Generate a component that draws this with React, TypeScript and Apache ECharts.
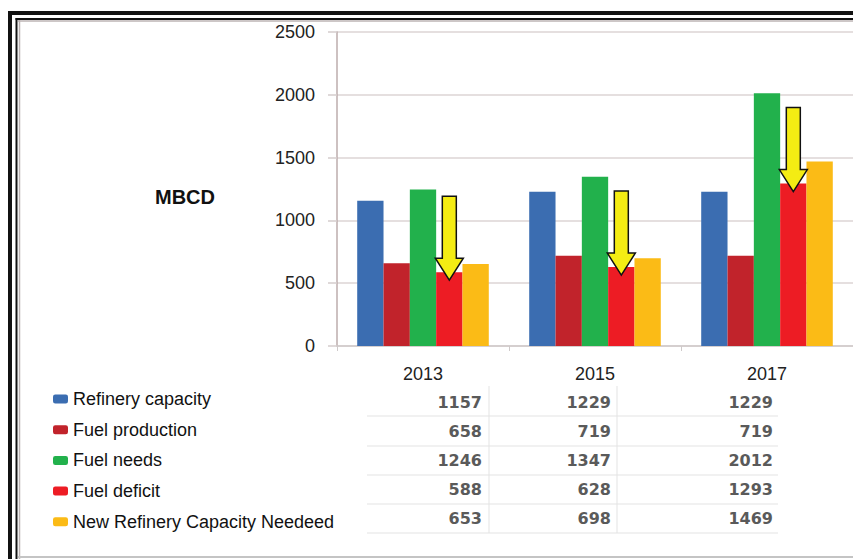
import React, { useEffect, useRef } from 'react';
import * as echarts from 'echarts';

const years = ['2013', '2015', '2017'];
const refineryCapacity = [1157, 1229, 1229];
const fuelProduction = [658, 719, 719];
const fuelNeeds = [1246, 1347, 2012];
const fuelDeficit = [588, 628, 1293];
const newCapacity = [653, 698, 1469];
const seriesNames = [
  'Refinery capacity',
  'Fuel production',
  'Fuel needs',
  'Fuel deficit',
  'New Refinery Capacity Needeed',
];
const seriesValues = [refineryCapacity, fuelProduction, fuelNeeds, fuelDeficit, newCapacity];
const seriesColors = ['#3b6db1', '#c1232b', '#22b14c', '#ed1c24', '#fbbb16'];
const yMin = 0;
const yMax = 2500;
const yStep = 500;
const axisTitle = 'MBCD';
const arrowSeriesIndex = 3;

const FONT = '"Liberation Sans", Arial, sans-serif';

export default function App() {
  const ref = useRef<HTMLDivElement>(null);

  useEffect(() => {
    if (!ref.current) return;
    const chart = echarts.init(ref.current, null, { renderer: 'svg' });

    const tableRowY = [402, 431, 460, 489, 518];
    const tableColRight = [482, 611, 773];
    const hLines = [416, 446, 475, 504, 533];
    const vLines = [489, 617];

    const graphic: any[] = [];
    const black = '#111';
    graphic.push(
      { type: 'line', shape: { x1: 10, y1: 11, x2: 10, y2: 559 }, style: { stroke: black, lineWidth: 4 } },
      { type: 'line', shape: { x1: 8, y1: 13, x2: 853, y2: 13 }, style: { stroke: black, lineWidth: 4 } },
      { type: 'line', shape: { x1: 16.5, y1: 18, x2: 16.5, y2: 559 }, style: { stroke: black, lineWidth: 2 } },
      { type: 'line', shape: { x1: 15.5, y1: 19, x2: 853, y2: 19 }, style: { stroke: black, lineWidth: 2 } },
      { type: 'line', shape: { x1: 19.5, y1: 20, x2: 19.5, y2: 559 }, style: { stroke: '#bdb4b4', lineWidth: 1.5 } },
      { type: 'line', shape: { x1: 18, y1: 21, x2: 853, y2: 21 }, style: { stroke: '#bdb4b4', lineWidth: 1.5 } },
      { type: 'line', shape: { x1: 18, y1: 557, x2: 853, y2: 557 }, style: { stroke: '#c4c4c4', lineWidth: 2 } }
    );
    graphic.push({
      type: 'text',
      x: 185,
      y: 197,
      style: {
        text: axisTitle,
        font: `bold 20px ${FONT}`,
        fill: '#111',
        textAlign: 'center',
        textVerticalAlign: 'middle',
      },
    });
    hLines.forEach((y) => {
      graphic.push({
        type: 'line',
        shape: { x1: 367, y1: y, x2: 778, y2: y },
        style: { stroke: '#e3e3e3', lineWidth: 1 },
      });
    });
    vLines.forEach((x) => {
      graphic.push({
        type: 'line',
        shape: { x1: x, y1: 386, x2: x, y2: 533 },
        style: { stroke: '#e3e3e3', lineWidth: 1 },
      });
    });
    seriesValues.forEach((vals, r) => {
      vals.forEach((v, c) => {
        graphic.push({
          type: 'text',
          x: tableColRight[c],
          y: tableRowY[r],
          style: {
            text: String(v),
            font: 'bold 16px "DejaVu Sans", Verdana, sans-serif',
            fill: '#5a5a5a',
            textAlign: 'right',
            textVerticalAlign: 'middle',
          },
        });
      });
    });

    const series = seriesNames.map((name, i) => ({
      name,
      type: 'bar',
      data: seriesValues[i],
      barGap: '0%',
      barCategoryGap: '23.5%',
      itemStyle: { color: seriesColors[i] },
    }));

    chart.setOption({
      animation: false,
      backgroundColor: '#ffffff',
      textStyle: { fontFamily: FONT },
      grid: { left: 337, top: 32, width: 519, height: 314, containLabel: false },
      legend: {
        orient: 'vertical',
        left: 53,
        top: 388,
        padding: 0,
        itemWidth: 15,
        itemHeight: 9,
        itemGap: 8.7,
        icon: 'roundRect',
        selectedMode: false,
        textStyle: { fontSize: 18, color: '#111', fontFamily: FONT, lineHeight: 22 },
        data: seriesNames,
      },
      xAxis: {
        type: 'category',
        data: years,
        axisLine: { show: true, lineStyle: { color: '#cfcaca', width: 1.5 } },
        axisTick: { show: true, length: 5, alignWithLabel: false, lineStyle: { color: '#cfcaca' } },
        axisLabel: { fontSize: 18, color: '#222', margin: 19, fontFamily: FONT },
        splitLine: { show: false },
      },
      yAxis: {
        type: 'value',
        min: yMin,
        max: yMax,
        interval: yStep,
        axisLine: { show: true, lineStyle: { color: '#bcadad', width: 1.5 } },
        axisTick: { show: true, length: 9, lineStyle: { color: '#d5cccc', width: 1.5 } },
        axisLabel: {
          fontSize: 18,
          color: '#222',
          margin: 22,
          fontFamily: FONT,
          formatter: (v: number) => String(v),
        },
        splitLine: { show: true, lineStyle: { color: '#dcd4d4', width: 1.5 } },
      },
      graphic,
      series,
    });

    // Arrows pointing at the "Fuel deficit" bars, placed from the bar layout
    const arrows: any[] = [];
    try {
      const data = (chart as any).getModel().getSeriesByIndex(arrowSeriesIndex).getData();
      for (let j = 0; j < data.count(); j++) {
        const l = data.getItemLayout(j);
        const cx = l.x + l.width / 2;
        const top = Math.min(l.y, l.y + l.height);
        const tip = top + 8;
        const len = 84;
        const head = 22;
        const hw = 14;
        const sw = 7;
        const y0 = tip - len;
        const yh = tip - head;
        arrows.push({
          type: 'polygon',
          z: 100,
          shape: {
            points: [
              [cx - sw, y0],
              [cx + sw, y0],
              [cx + sw, yh],
              [cx + hw, yh],
              [cx, tip],
              [cx - hw, yh],
              [cx - sw, yh],
            ],
          },
          style: { fill: '#f4ec13', stroke: '#111', lineWidth: 1.5, lineJoin: 'miter' },
        });
      }
    } catch (e) {
      // ignore
    }
    chart.setOption({ graphic: graphic.concat(arrows) });

    return () => {
      chart.dispose();
    };
  }, []);

  return (
    <div
      ref={ref}
      style={{ position: 'absolute', left: 0, top: 0, width: 853, height: 559 }}
    />
  );
}
